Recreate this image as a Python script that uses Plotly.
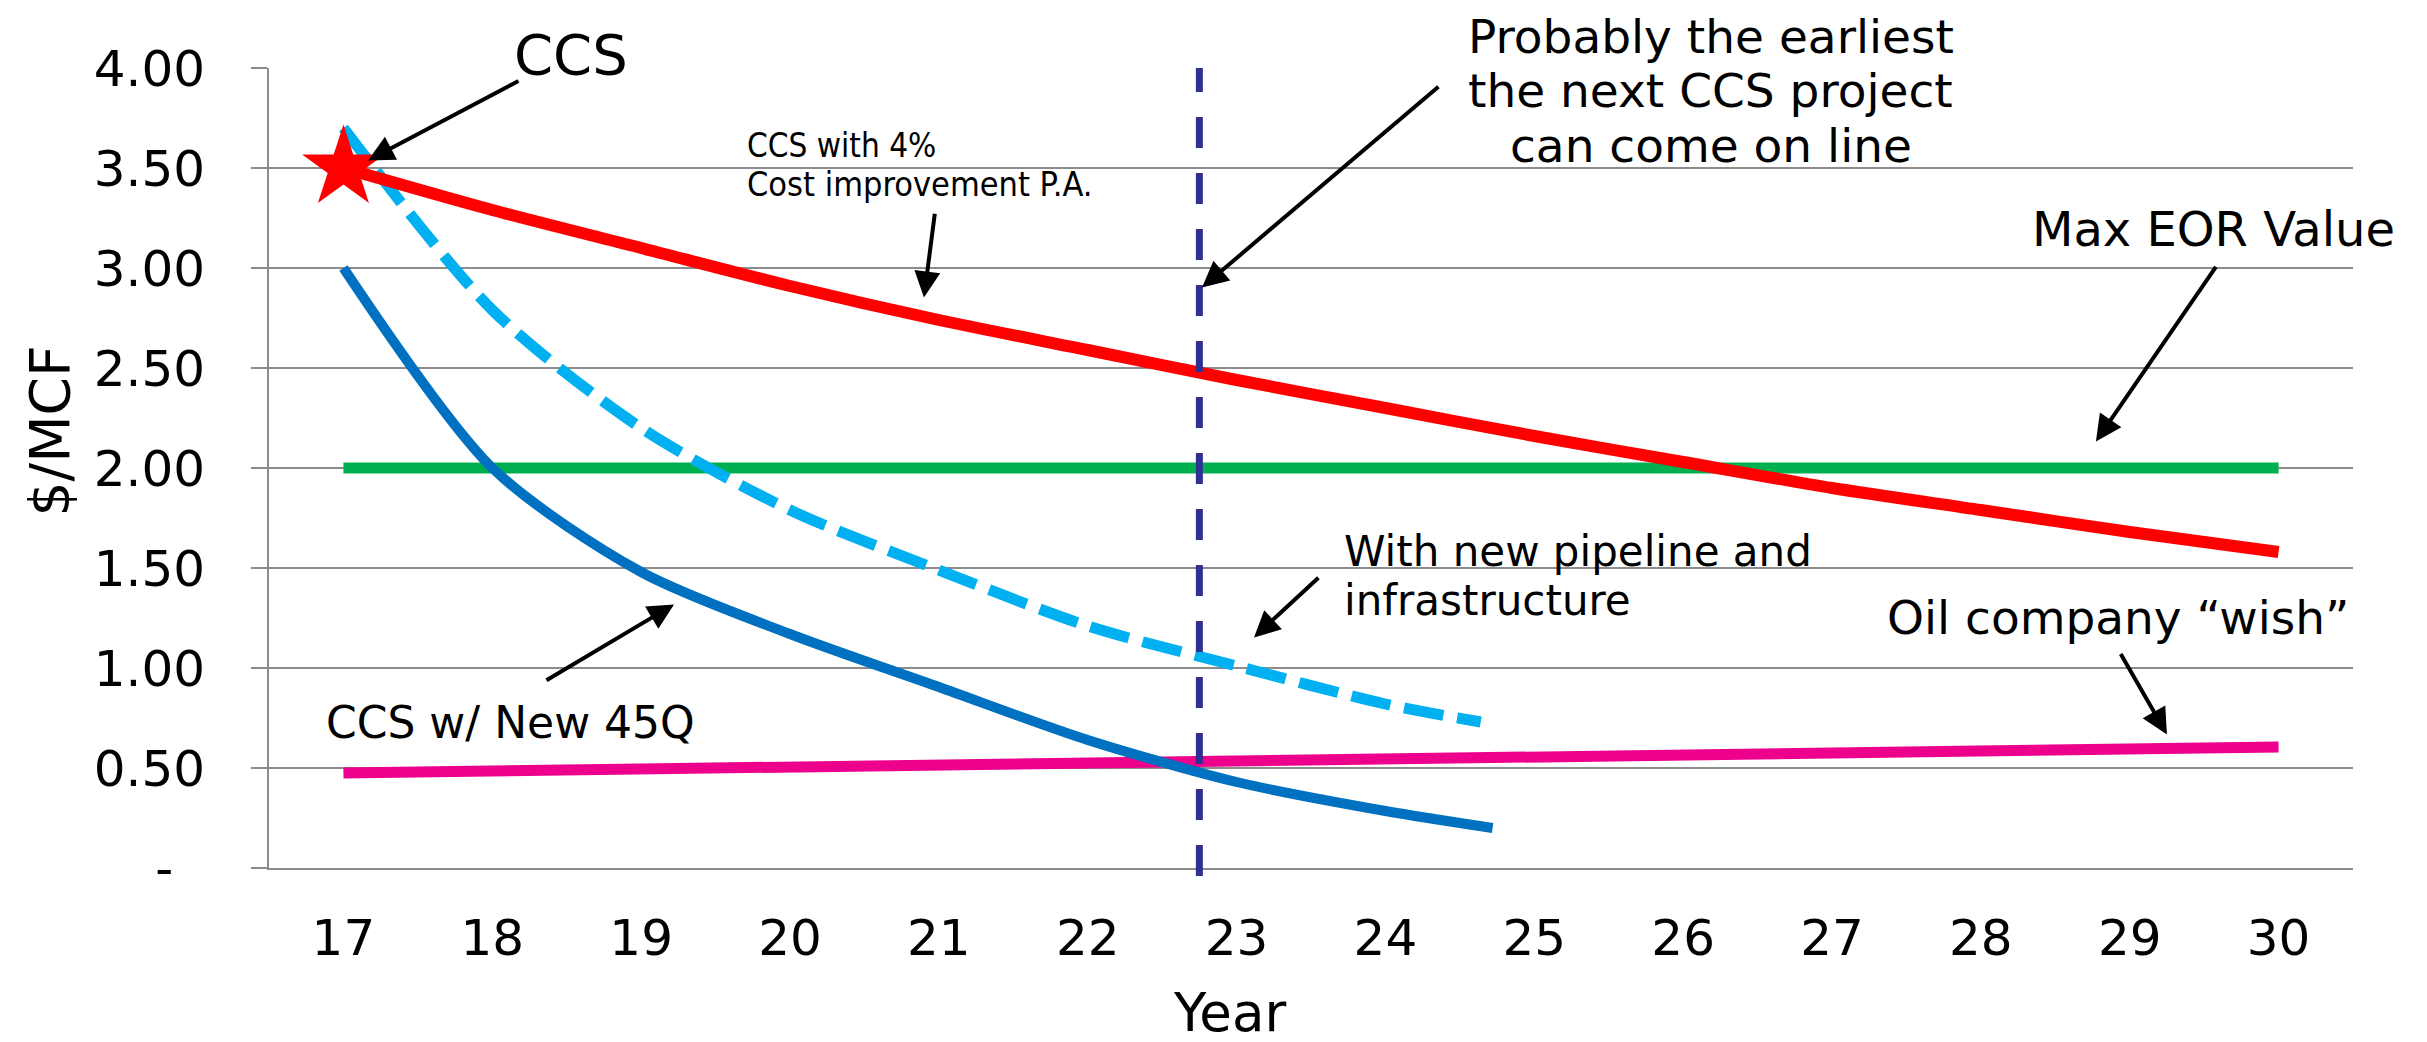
import plotly.graph_objects as go

# ---------------- data ----------------
years = [17, 18, 19, 20, 21, 22, 23, 24, 25, 26, 27, 28, 29, 30]
year_labels = [str(y) for y in years]

ccs_4pct = [3.50, 3.29, 3.10, 2.91, 2.74, 2.59, 2.44, 2.30, 2.16, 2.03, 1.90, 1.79, 1.68, 1.58]
max_eor = [2.00] * 14
oil_wish = [0.475, 0.485, 0.495, 0.505, 0.515, 0.525, 0.535, 0.545, 0.555, 0.565, 0.575, 0.585, 0.595, 0.605]

blue_years_45q = [17, 18, 19, 20, 21, 22, 23, 24, 24.72]
ccs_45q = [3.00, 2.00, 1.48, 1.17, 0.905, 0.64, 0.43, 0.285, 0.20]

blue_years_pipe = [17, 18, 19, 20, 21, 22, 23, 24, 24.64]
ccs_pipeline = [3.70, 2.79, 2.20, 1.79, 1.49, 1.21, 1.01, 0.82, 0.73]

ccs_now_year = [17]
ccs_now_value = [3.50]

earliest_online_year = 22.75

y_ticks = [0, 0.5, 1.0, 1.5, 2.0, 2.5, 3.0, 3.5, 4.0]
y_ticktext = ["-\u00a0\u00a0", "0.50", "1.00", "1.50", "2.00", "2.50", "3.00", "3.50", "4.00"]
x_boundaries = [16.5 + i for i in range(15)]

# ---------------- style ----------------
FONT = "DejaVu Sans, Verdana, sans-serif"
NARROW = "Liberation Sans Narrow, DejaVu Sans Condensed, Liberation Sans, Arial, sans-serif"
GRID = "#8c8c8c"

fig = go.Figure()

fig.add_trace(go.Scatter(x=years, y=max_eor, mode="lines",
                         line=dict(color="#00B050", width=11), name="Max EOR Value"))
fig.add_trace(go.Scatter(x=years, y=oil_wish, mode="lines",
                         line=dict(color="#EC008C", width=11), name="Oil company wish"))
fig.add_trace(go.Scatter(x=blue_years_45q, y=ccs_45q, mode="lines",
                         line=dict(color="#0070C0", width=10, shape="spline", smoothing=0.8),
                         name="CCS w/ New 45Q"))
fig.add_trace(go.Scatter(x=blue_years_pipe, y=ccs_pipeline, mode="lines",
                         line=dict(color="#00B0F0", width=11, shape="spline", smoothing=0.8,
                                   dash="40px,14px"),
                         name="With new pipeline"))
fig.add_trace(go.Scatter(x=years, y=ccs_4pct, mode="lines",
                         line=dict(color="#FF0000", width=12, shape="spline", smoothing=0.8),
                         name="CCS with 4%"))
fig.add_trace(go.Scatter(x=ccs_now_year, y=ccs_now_value, mode="markers",
                         marker=dict(symbol="star", size=62, color="#FF0000",
                                     line=dict(width=0)),
                         name="CCS"))

# vertical dashed marker line
fig.add_shape(type="line", xref="x", yref="paper",
              x0=earliest_online_year, x1=earliest_online_year, y0=-0.01, y1=1.0,
              line=dict(color="#2E3192", width=7, dash="31px,25px"), layer="above")

# white label backgrounds that interrupt the gridlines (paper coordinates)
label_boxes = [
    (0.1094, 0.1910, 0.9821, 1.0496),   # CCS
    (0.2193, 0.4203, 0.8321, 0.9246),   # CCS with 4%
    (0.5609, 0.8292, 0.8471, 1.0846),   # Probably the earliest
    (0.5048, 0.7538, 0.3071, 0.4246),   # With new pipeline
]
for x0, x1, y0, y1 in label_boxes:
    fig.add_shape(type="rect", xref="paper", yref="paper", x0=x0, x1=x1, y0=y0, y1=y1,
                  fillcolor="white", line=dict(width=0), layer="between")

annotations = []


def label(text, x, y, size, xanchor="center", family=FONT):
    annotations.append(dict(
        text=text, x=x, y=y, xref="paper", yref="paper", showarrow=False,
        xanchor=xanchor, yanchor="middle", align=xanchor if xanchor != "center" else "center",
        font=dict(family=family, size=size, color="black")))


def arrow(x_head, y_head, x_tail, y_tail):
    annotations.append(dict(
        text="", x=x_head, y=y_head, ax=x_tail, ay=y_tail,
        xref="x", yref="y", axref="x", ayref="y",
        showarrow=True, arrowhead=2, arrowsize=1.3, arrowwidth=4, arrowcolor="black"))


label("CCS", 0.1449, 1.0171, 56)
label("CCS with 4%", 0.2284, 0.9034, 33, xanchor="left", family=NARROW)
label("Cost improvement P.A.", 0.2284, 0.8546, 34, xanchor="left", family=NARROW)
label("Probably the earliest", 0.6919, 1.0395, 47)
label("the next CCS project", 0.6919, 0.9715, 47)
label("can come on line", 0.6919, 0.9035, 47)
label("Max EOR Value", 0.9333, 0.7984, 48)
label("With new pipeline and", 0.5149, 0.3959, 42, xanchor="left")
label("infrastructure", 0.5149, 0.3346, 42, xanchor="left")
label("Oil company \u201cwish\u201d", 0.8872, 0.3134, 47)
label("CCS w/ New 45Q", 0.1161, 0.1821, 44)

arrow(17.165, 3.538, 18.186, 3.939)
arrow(20.90, 2.853, 20.974, 3.279)
arrow(22.768, 2.903, 24.366, 3.913)
arrow(28.773, 2.133, 29.586, 3.013)
arrow(23.117, 1.153, 23.56, 1.458)
arrow(29.25, 0.668, 28.934, 1.078)
arrow(19.221, 1.318, 18.354, 0.934)

# axis titles
annotations.append(dict(text="Year", x=0.461, y=-0.181, xref="paper", yref="paper",
                        showarrow=False, xanchor="center", yanchor="middle",
                        font=dict(family=FONT, size=53, color="black")))
annotations.append(dict(text="$/MCF", x=-0.105, y=0.546, xref="paper", yref="paper",
                        showarrow=False, xanchor="center", yanchor="middle", textangle=-90,
                        font=dict(family=FONT, size=55, color="black")))

# the page body has an 8px default margin, so the figure is 8px smaller
fig.update_layout(
    width=2419, height=1034, autosize=False,
    margin=dict(l=261, r=74, t=60, b=174),
    paper_bgcolor="white", plot_bgcolor="white",
    showlegend=False,
    font=dict(family=FONT, color="black"),
    annotations=annotations,
    xaxis=dict(range=[16.5, 30.5], tickmode="array", tickvals=years, ticktext=year_labels,
               ticks="", showgrid=False, zeroline=False, showline=True,
               linecolor=GRID, linewidth=2, tickfont=dict(family=FONT, size=50),
               ticklabelstandoff=25),
    xaxis2=dict(range=[16.5, 30.5], overlaying="x", side="bottom", anchor="y",
                tickmode="array", tickvals=x_boundaries, ticks="outside", ticklen=16,
                tickwidth=2, tickcolor=GRID, showticklabels=False, showgrid=False,
                zeroline=False, showline=False),
    yaxis=dict(range=[0, 4], tickmode="array", tickvals=y_ticks, ticktext=y_ticktext,
               ticks="outside", ticklen=16, tickwidth=2, tickcolor=GRID,
               showgrid=True, gridcolor=GRID, gridwidth=2, zeroline=False,
               showline=True, linecolor=GRID, linewidth=2,
               tickfont=dict(family=FONT, size=50), ticklabelstandoff=36),
)

fig.write_html("out.html")
